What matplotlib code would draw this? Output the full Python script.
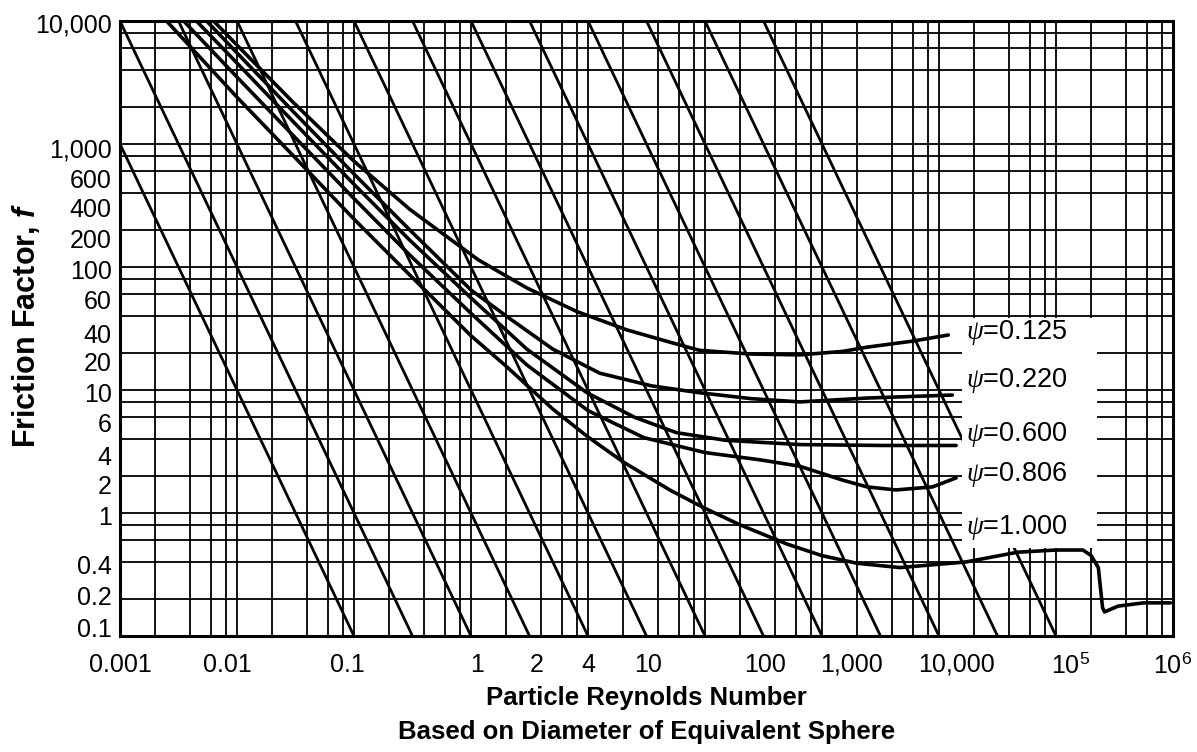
import numpy as np
import matplotlib
matplotlib.use("Agg")
import matplotlib.pyplot as plt
from matplotlib.patches import Rectangle

plt.rcParams['font.family'] = ['Liberation Sans', 'DejaVu Sans']
plt.rcParams['mathtext.fontset'] = 'custom'
plt.rcParams['mathtext.rm'] = 'Liberation Sans'
plt.rcParams['mathtext.it'] = 'Liberation Serif:italic'
plt.rcParams['mathtext.bf'] = 'Liberation Sans:bold'
plt.rcParams['mathtext.bfit'] = 'Liberation Sans:bold:italic'

# ---------------- data ----------------
re_min, re_max = 1e-3, 1e6
f_min, f_max = 0.1, 1e4

# grid lines (1, 2, 4, 6, 8 per decade)
grid_mult = [1, 2, 4, 6, 8]
re_decades = [-3, -2, -1, 0, 1, 2, 3, 4, 5]
f_decades = [-1, 0, 1, 2, 3]

# diagonal lines f * Re^2 = C
diag_C = [1e-3, 1e-2, 1e-1, 1e0, 1e1, 1e2, 1e3, 1e4, 1e5, 1e6, 1e7, 1e8, 1e9]

# tick labels as printed on the chart, at the places where they are printed
x_tick_labels = ['0.001', '0.01', '0.1', '1', '2', '4', '10', '100', '1,000',
                 '10,000', r'$10^5$', r'$10^6$']
x_tick_pos = [1.0e-3, 8.2e-3, 8.7e-2, 1.13, 3.66, 10.0, 32.6, 326, 1800,
              1.40e4, 1.32e5, 1.0e6]
y_tick_labels = ['10,000', '1,000', '600', '400', '200', '100', '60', '40', '20',
                 '10', '6', '4', '2', '1', '0.4', '0.2', '0.1']
y_tick_pos = [9600, 928, 529, 302, 172, 96, 54, 29, 16.9, 9.6, 5.4, 2.96, 1.69,
              0.96, 0.378, 0.215, 0.118]

# sphericity curves (Re, f)
psi_labels = ['0.125', '0.220', '0.600', '0.806', '1.000']
re_125 = [0.0063, 0.01, 0.03, 0.1, 0.3, 1.16, 3, 8, 21.5, 50, 90, 250, 646,
          1500, 2427, 6000, 1.2e4]
f_125 = [1e4, 6370, 2195, 724, 294, 114, 67.6, 43.5, 30.8, 24.5, 21, 19.6, 19.3,
         20.6, 22.3, 25, 28]
re_220 = [0.0055, 0.01, 0.03, 0.1, 0.3, 1.0, 2.15, 5, 12.6, 35, 90, 250, 646,
          2427, 1.3e4]
f_220 = [1e4, 5500, 1850, 570, 200, 65, 38, 21.5, 13.7, 10.8, 9.5, 8.5, 8.0,
         8.6, 9.1]
re_600 = [0.0045, 0.01, 0.03, 0.1, 0.3, 1.0, 3.0, 9.8, 25, 57, 150, 646, 3300,
          1.4e4]
f_600 = [1e4, 4550, 1530, 470, 165, 56, 21.5, 9.5, 6.0, 4.5, 3.9, 3.6, 3.54,
         3.54]
re_806 = [0.0035, 0.01, 0.03, 0.1, 0.3, 1.0, 3.0, 10, 30, 100, 300, 646, 1500,
          2427, 4300, 8800, 1.4e4]
f_806 = [1e4, 3500, 1180, 360, 125, 42, 16, 6.8, 4.1, 3.1, 2.7, 2.4, 1.85,
         1.63, 1.54, 1.63, 1.93]
re_100 = [0.0025, 0.01, 0.03, 0.1, 0.3, 1.0, 2.0, 5.0, 10, 20, 50, 100, 200,
          500, 1000, 2000, 4645, 1.7e4, 4.7e4, 1.0e5, 1.7e5, 2.0e5, 2.3e5,
          2.5e5, 2.6e5, 3.4e5, 5.6e5, 9.5e5]
f_100 = [1e4, 2400, 810, 245, 86, 27.6, 15.6, 7.0, 4.15, 2.6, 1.54, 1.09, 0.80,
         0.56, 0.45, 0.39, 0.36, 0.40, 0.48, 0.50, 0.50, 0.45, 0.36, 0.17,
         0.157, 0.175, 0.186, 0.186]

psi_re = [re_125, re_220, re_600, re_806, re_100]
psi_f = [f_125, f_220, f_600, f_806, f_100]

# ---------------- figure ----------------
W, H = 1197, 752
fig = plt.figure(figsize=(W / 100, H / 100), dpi=100)
L, R, T, B = 120, 1173, 21, 636
ax = fig.add_axes([L / W, 1 - B / H, (R - L) / W, (B - T) / H])
ax.set_xscale('log')
ax.set_yscale('log')
ax.set_xlim(re_min, re_max)
ax.set_ylim(f_min, f_max)

grid_lw = 1.3
for d in re_decades:
    for m in grid_mult:
        v = m * 10.0 ** d
        if re_min < v < re_max:
            ax.axvline(v, color='black', lw=grid_lw, zorder=1)
for d in f_decades:
    for m in grid_mult:
        v = m * 10.0 ** d
        if f_min < v < f_max:
            ax.axhline(v, color='black', lw=grid_lw, zorder=1)

re_ends = np.array([re_min, re_max])
for C in diag_C:
    ax.plot(re_ends, C / re_ends ** 2, color='black', lw=2.0, zorder=2)

for re_v, f_v in zip(psi_re, psi_f):
    ax.plot(re_v, f_v, color='black', lw=2.6, zorder=3,
            solid_capstyle='round', solid_joinstyle='round')

# white label panel
ax.add_patch(Rectangle((0.7996, 0.143), 0.128, 0.374, transform=ax.transAxes,
                       facecolor='white', edgecolor='none', zorder=4))
label_y = [0.494, 0.416, 0.327, 0.262, 0.176]
for lab, yy in zip(psi_labels, label_y):
    ax.text(0.803, yy, r'$\psi$=' + lab, transform=ax.transAxes, fontsize=19.5,
            va='center', ha='left', zorder=5)

for s in ax.spines.values():
    s.set_linewidth(2.2)
    s.set_zorder(6)

ax.set_xticks(x_tick_pos, x_tick_labels)
ax.set_yticks(y_tick_pos, y_tick_labels)
ax.xaxis.set_minor_locator(matplotlib.ticker.NullLocator())
ax.yaxis.set_minor_locator(matplotlib.ticker.NullLocator())
ax.tick_params(axis='both', length=0, labelsize=18)
ax.tick_params(axis='x', pad=12)
ax.tick_params(axis='y', pad=6)

fig.text((L + R) / 2 / W, 1 - 698 / H, 'Particle Reynolds Number', ha='center',
         va='center', fontsize=18.5, fontweight='bold')
fig.text((L + R) / 2 / W, 1 - 732 / H, 'Based on Diameter of Equivalent Sphere',
         ha='center', va='center', fontsize=18.5, fontweight='bold')
fig.text(26 / W, 1 - 325 / H, r'Friction Factor, $\mathbfit{f}$', rotation=90,
         ha='center', va='center', fontsize=22, fontweight='bold')

fig.savefig('out.png', dpi=100, facecolor='white')
